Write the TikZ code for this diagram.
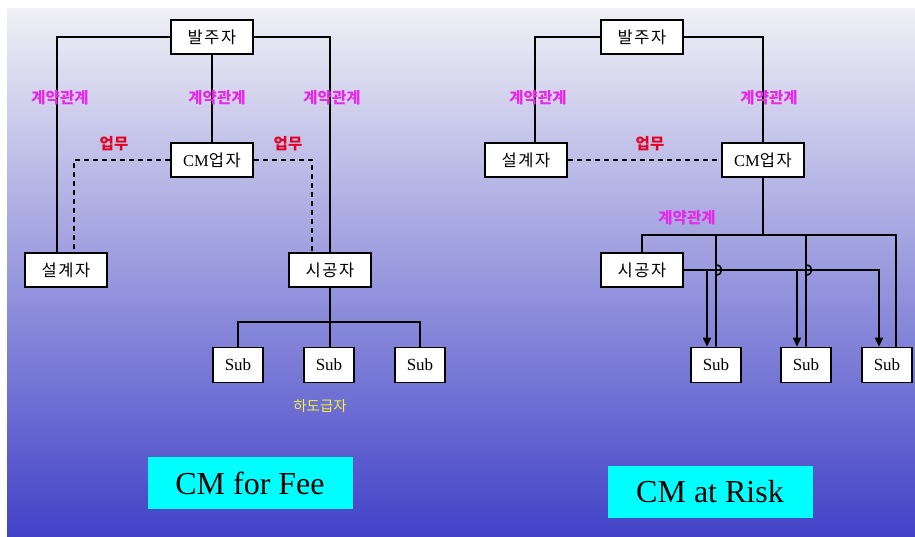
\documentclass[tikz,border=0pt]{standalone}
\usepackage{fontspec}
\setmainfont{Liberation Serif}
\newfontfamily\kr{Noto Sans CJK KR}
\newfontfamily\krs{Noto Sans CJK KR}[LetterSpace=10]
\usetikzlibrary{arrows.meta}

\definecolor{bgtop}{RGB}{240,240,245}
\definecolor{bgmid}{RGB}{172,176,224}
\definecolor{bgbot}{RGB}{66,66,200}
\definecolor{contractpink}{RGB}{232,40,232}
\definecolor{taskred}{RGB}{232,0,36}
\definecolor{subyellow}{RGB}{240,240,70}
\definecolor{modelcyan}{RGB}{0,255,255}

\tikzset{
  party/.style={draw,line width=1.6pt,fill=white,minimum width=82pt,minimum height=34pt,
    inner sep=0pt,font=\krs\fontsize{16.5}{16.5}\selectfont},
  subbox/.style={draw,line width=1.6pt,fill=white,minimum width=50pt,minimum height=35pt,
    inner sep=0pt,font=\fontsize{17}{17}\selectfont},
  contract/.style={text=contractpink,font=\kr\bfseries\fontsize{15.5}{15.5}\selectfont},
  task/.style={text=taskred,font=\kr\bfseries\fontsize{15.5}{15.5}\selectfont},
  model/.style={fill=modelcyan,minimum width=205pt,minimum height=52pt,inner sep=0pt,
    font=\fontsize{32}{32}\selectfont},
  work/.style={line width=1.2pt,dash pattern=on 5pt off 4pt}
}

\begin{document}
\begin{tikzpicture}[x=1pt,y=-1pt,line width=1.6pt]
      % Draw background
      \useasboundingbox (0,0) rectangle (915,536);
      \shade [top color=bgtop,middle color=bgmid,bottom color=bgbot] (7,8) rectangle (915,536);
      % Draw CM for Fee boxes
      \node (owner1) [party] at (212,37) {발주자};
      \node (cm1) [party] at (212,160) {{\rmfamily CM}업자};
      \node (design1) [party] at (66,270) {설계자};
      \node (cons1) [party] at (330,270) {시공자};
      \node (sub11) [subbox] at (238,365) {Sub};
      \node (sub12) [subbox] at (329,365) {Sub};
      \node (sub13) [subbox] at (420,365) {Sub};
      % Draw CM for Fee links
      \draw (owner1.west) -| ([xshift=-9pt]design1.north);
      \draw (owner1.east) -| (cons1.north);
      \draw (owner1) -- (cm1);
      \draw [work] (cm1.west) -| ([xshift=8pt]design1.north);
      \draw [work] (cm1.east) -| ([xshift=-18pt]cons1.north);
      \coordinate (bar1) at (330,322);
      \draw (cons1.south) -- (bar1);
      \draw (bar1) -- (cons1.south |- sub12.north);
      \draw (sub11.north) |- (bar1) -| (sub13.north);
      % Draw CM at Risk boxes
      \node (owner2) [party] at (642,37) {발주자};
      \node (design2) [party] at (526,160) {설계자};
      \node (cm2) [party] at (763,160) {{\rmfamily CM}업자};
      \node (cons2) [party] at (642,270) {시공자};
      \node (sub21) [subbox] at (716,365) {Sub};
      \node (sub22) [subbox] at (806,365) {Sub};
      \node (sub23) [subbox] at (887,365) {Sub};
      % Draw CM at Risk links
      \draw (owner2.west) -| ([xshift=9pt]design2.north);
      \draw (owner2.east) -| (cm2.north);
      \draw [work] (design2) -- (cm2);
      \coordinate (bar2) at (763,235);
      \draw (cm2.south) -- (bar2);
      \draw (cons2.north) |- (bar2) -| ([xshift=9pt]sub23.north);
      % Draw hops over the contractor line
      \foreach \s in {sub21,sub22} {
        \draw (\s.north |- bar2) -- ([yshift=-5pt]\s.north |- cons2.east)
          to [out=0,in=0,looseness=1.9] ([yshift=5pt]\s.north |- cons2.east) -- (\s.north);
        \draw [-{Triangle[length=9pt,width=8pt]}] ([xshift=-9pt]\s.north |- cons2.east)
          -- ([xshift=-9pt]\s.north);
      }
      \draw [-{Triangle[length=9pt,width=8pt]}] (cons2.east) -| ([xshift=-8pt]sub23.north);
      % Draw labels
      \node (c1) [contract] at (60,98) {계약관계};
      \node (c2) [contract] at (217,98) {계약관계};
      \node (c3) [contract] at (332,98) {계약관계};
      \node (c4) [contract] at (538,98) {계약관계};
      \node (c5) [contract] at (769,98) {계약관계};
      \node (c6) [contract] at (687,218) {계약관계};
      \node (t1) [task] at (114,144) {업무};
      \node (t2) [task] at (288,144) {업무};
      \node (t3) [task] at (650,144) {업무};
      \node (subs) [text=subyellow,font=\kr\fontsize{14.5}{14.5}\selectfont] at (320,406) {하도급자};
      % Draw model names
      \node (fee) [model] at (250,483) {CM for Fee};
      \node (risk) [model] at (710,492) {CM at Risk};
    \end{tikzpicture}
\end{document}
